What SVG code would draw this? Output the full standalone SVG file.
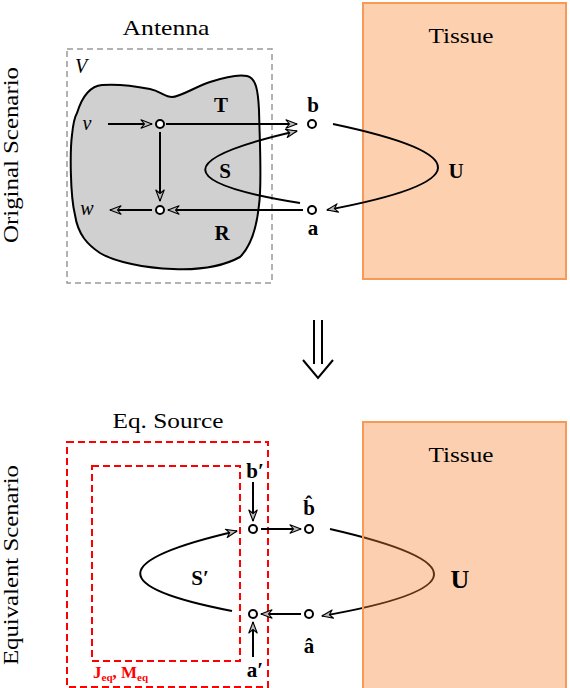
<svg xmlns="http://www.w3.org/2000/svg" width="570" height="688" viewBox="0 0 570 688">
<defs>
<style>
text{font-family:"Liberation Serif","DejaVu Serif",serif;fill:#000}
.lbl{font-size:21px}
.side{font-size:20px}
.bf{font-size:21px;font-weight:bold}
.it{font-size:20px;font-style:italic}
.conn{fill:none;stroke:#000;stroke-width:2}
.node{fill:#fff;stroke:#000;stroke-width:2}
.red{fill:none;stroke:#f00;stroke-width:2;stroke-dasharray:7,4}
</style>
<marker id="ah" viewBox="-12 -6 13 12" refX="0" refY="0" markerWidth="13" markerHeight="12" markerUnits="userSpaceOnUse" orient="auto">
<path d="M0,0 L-11,-4.2 L-7.5,0 L-11,4.2 Z" fill="#bbb" stroke="#000" stroke-width="1.1" stroke-linejoin="round"/>
</marker>
</defs>
<rect width="570" height="688" fill="#fff"/>

<!-- Side labels -->
<text class="side" transform="translate(18,155) rotate(-90)" text-anchor="middle" textLength="176" lengthAdjust="spacingAndGlyphs">Original Scenario</text>
<text class="side" transform="translate(18,565) rotate(-90)" text-anchor="middle" textLength="200" lengthAdjust="spacingAndGlyphs">Equivalent Scenario</text>

<!-- Top scenario -->
<g id="tissue-top">
<rect x="363" y="3" width="203" height="276" fill="#fdd0b0" stroke="#f79a58" stroke-width="2"/>
<text class="lbl" x="461" y="43" text-anchor="middle" textLength="65" lengthAdjust="spacingAndGlyphs">Tissue</text>
</g>
<g id="antenna">
<text class="lbl" x="166" y="35" text-anchor="middle" textLength="87" lengthAdjust="spacingAndGlyphs">Antenna</text>
<rect x="67" y="49" width="205" height="234" fill="none" stroke="#999" stroke-width="1.5" stroke-dasharray="6,4"/>
<text class="it" x="75" y="73">V</text>
<path d="M77,113 C82,97 90,86 102,85 C115,84 135,86 150,89 C160,91 165,97 172,97 C180,97 195,87 210,82 C225,77 238,74 247,76 C256,78 258,90 259,110 C260,150 262,185 259,205 C257,225 252,245 240,257 C220,268 195,270 173,269 C145,268 115,262 100,253 C88,245 78,235 75,215 C70,195 70,150 72,135 C73,125 74,118 77,113 Z" fill="#d0d0d0" stroke="#000" stroke-width="2"/>
<text class="bf" x="221" y="112" text-anchor="middle">T</text>
<text class="bf" x="225" y="178" text-anchor="middle">S</text>
<text class="bf" x="222" y="240" text-anchor="middle">R</text>
<text class="it" x="87" y="130" text-anchor="middle">v</text>
<text class="it" x="87" y="215" text-anchor="middle">w</text>
</g>
<g id="connectors-top">
<line class="conn" x1="108" y1="124" x2="152" y2="124" marker-end="url(#ah)"/>
<line class="conn" x1="166" y1="124" x2="297" y2="124" marker-end="url(#ah)"/>
<line class="conn" x1="160" y1="132" x2="160" y2="201" marker-end="url(#ah)"/>
<line class="conn" x1="152" y1="210" x2="110" y2="210" marker-end="url(#ah)"/>
<line class="conn" x1="303" y1="210" x2="168" y2="210" marker-end="url(#ah)"/>
<path class="conn" d="M300,203 Q112,173 297,131" marker-end="url(#ah)"/>
<path class="conn" d="M333,124 Q546,169 327,210" marker-end="url(#ah)"/>
</g>
<g id="nodes-top">
<circle class="node" cx="160" cy="124" r="4"/>
<circle class="node" cx="160" cy="210" r="4"/>
<circle class="node" cx="312" cy="124" r="4"/>
<circle class="node" cx="312" cy="210" r="4"/>
<text class="bf" x="313" y="112" text-anchor="middle">b</text>
<text class="bf" x="313" y="235" text-anchor="middle">a</text>
<text class="bf" x="456" y="178" text-anchor="middle">U</text>
</g>

<!-- Implies arrow -->
<g id="implies" fill="none" stroke="#000" stroke-width="2">
<line x1="314" y1="320" x2="314" y2="364"/>
<line x1="322" y1="320" x2="322" y2="364"/>
<polyline points="303,360 318,378 333,360"/>
</g>

<!-- Bottom scenario -->
<g id="eq-source">
<text class="lbl" x="168" y="428" text-anchor="middle" textLength="111" lengthAdjust="spacingAndGlyphs">Eq. Source</text>
<rect class="red" x="67" y="442" width="201" height="245"/>
<rect class="red" x="92" y="466" width="148" height="195"/>
<text x="93" y="678" style="fill:#f00;font-size:17px;font-weight:bold">J<tspan font-size="11" dy="3">eq</tspan><tspan dy="-3">, M</tspan><tspan font-size="11" dy="3">eq</tspan></text>
<text class="bf" x="200" y="585" text-anchor="middle">S′</text>
</g>
<g id="connectors-bottom">
<line class="conn" x1="253" y1="482" x2="253" y2="521" marker-end="url(#ah)"/>
<line class="conn" x1="253" y1="657" x2="253" y2="622" marker-end="url(#ah)"/>
<line class="conn" x1="261" y1="529" x2="301" y2="529" marker-end="url(#ah)"/>
<line class="conn" x1="301" y1="614" x2="261" y2="614" marker-end="url(#ah)"/>
<path class="conn" d="M232,611 Q46,575 237,531" marker-end="url(#ah)"/>
<path class="conn" d="M330,529 Q542,577.5 322,616" marker-end="url(#ah)"/>
</g>
<g id="tissue-bottom">
<rect x="363" y="422" width="203" height="270" fill="#fa8232" fill-opacity="0.38" stroke="#f79a58" stroke-width="2"/>
<text class="lbl" x="461" y="462" text-anchor="middle" textLength="65" lengthAdjust="spacingAndGlyphs">Tissue</text>
<text x="460" y="588" text-anchor="middle" style="font-size:26px;font-weight:bold">U</text>
</g>
<g id="nodes-bottom">
<circle class="node" cx="253" cy="529" r="4"/>
<circle class="node" cx="309" cy="529" r="4"/>
<circle class="node" cx="253" cy="614" r="4"/>
<circle class="node" cx="309" cy="614" r="4"/>
<text class="bf" x="255" y="478" text-anchor="middle">b′</text>
<text class="bf" x="255" y="677" text-anchor="middle">a′</text>
<text class="bf" x="309" y="515" text-anchor="middle">b̂</text>
<text class="bf" x="309" y="653" text-anchor="middle">â</text>
</g>
</svg>
